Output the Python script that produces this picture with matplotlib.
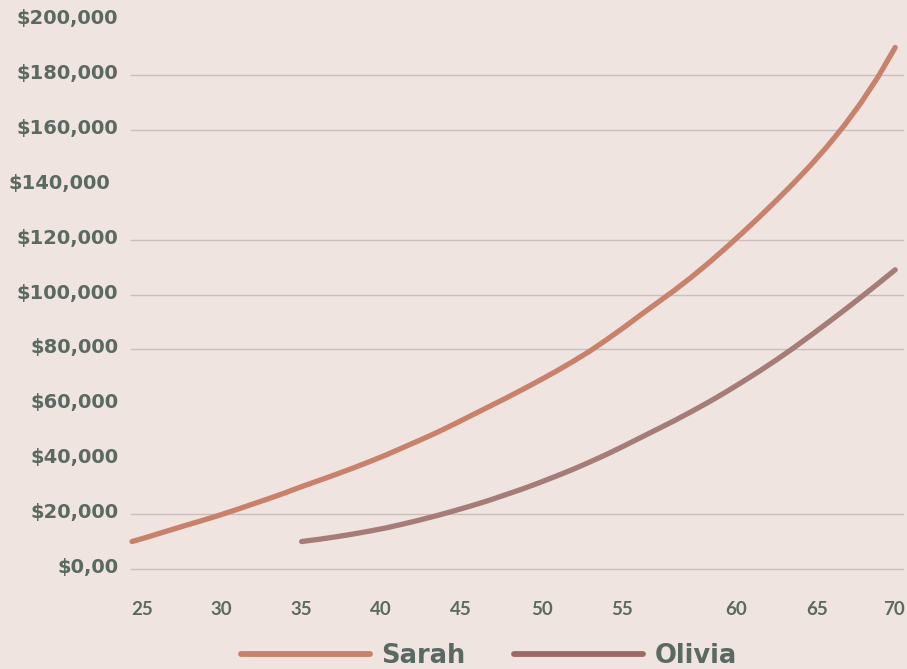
import matplotlib
matplotlib.use("Agg")
import matplotlib.pyplot as plt
from matplotlib.lines import Line2D
import matplotlib.transforms as mtransforms

# ---------------- data ----------------
sarah_ages = list(range(25, 71))
sarah_values = [10000, 11800, 13700, 15600, 17400, 19300, 21300, 23400, 25500, 27700,
                30000, 32200, 34400, 36700, 39100, 41600, 44300, 47000, 49800, 52800,
                55900, 59000, 62100, 65300, 68600, 72000, 75600, 79400, 83600, 88000,
                92600, 97100, 101600, 106400, 111500, 116900, 122500, 128300, 134300, 140500,
                147000, 154000, 161600, 170000, 179400, 190000]

olivia_ages = list(range(35, 71))
olivia_values = [10000, 10800, 11700, 12700, 13800, 15000, 16400, 17900, 19500, 21200,
                 23000, 24900, 27000, 29100, 31400, 33800, 36300, 39000, 41800, 44800,
                 47900, 51000, 54100, 57400, 60800, 64400, 68200, 72100, 76200, 80500,
                 85000, 89600, 94300, 99100, 104000, 109000]

x_tick_labels = ["25", "30", "35", "40", "45", "50", "55", "60", "65", "70"]
y_tick_values = [0, 20000, 40000, 60000, 80000, 100000, 120000, 140000, 160000, 180000, 200000]
y_tick_labels = ["$0,00", "$20,000", "$40,000", "$60,000", "$80,000", "$100,000",
                 "$120,000", "$140,000", "$160,000", "$180,000", "$200,000"]
grid_levels = [0, 20000, 80000, 100000, 120000, 160000, 180000]
series_names = ["Sarah", "Olivia"]

# ---------------- layout / style ----------------
x_tick_positions = [25.57, 30.25, 34.96, 39.68, 44.40, 49.16, 53.89, 60.60, 65.37, 69.93]
bg = "#f0e4e0"
text_color = "#5a6a61"
sarah_color = "#c8816a"
olivia_color = "#a67c79"
olivia_legend_color = "#9d6a68"
grid_color = "#cbbfbb"

W, H = 907, 669
fig = plt.figure(figsize=(W / 100, H / 100), dpi=100, facecolor=bg)
ax = fig.add_axes([131 / W, 100 / H, 772 / W, 549 / H])
ax.set_facecolor(bg)
ax.set_xlim(24.94, 70.46)
ax.set_ylim(0, 200000)

for lvl in grid_levels:
    ax.axhline(lvl, color=grid_color, lw=1.0, zorder=0, clip_on=False)

ax.plot(sarah_ages, sarah_values, color=sarah_color, lw=3.8,
        solid_capstyle="round", solid_joinstyle="round", clip_on=False, zorder=3)
ax.plot(olivia_ages, olivia_values, color=olivia_color, lw=3.8,
        solid_capstyle="round", solid_joinstyle="round", clip_on=False, zorder=3)

for s in ax.spines.values():
    s.set_visible(False)

ax.set_xticks(x_tick_positions)
ax.set_xticklabels(x_tick_labels, fontfamily="Lato", fontweight="bold",
                   fontsize=13.5, color=text_color)
ax.set_yticks(y_tick_values)
ax.set_yticklabels(y_tick_labels, fontfamily="DejaVu Sans", fontweight="bold",
                   fontsize=14, color=text_color)
ax.tick_params(axis="x", length=0, pad=23)
ax.tick_params(axis="y", length=0, pad=9)

# small vertical nudge of y labels (sit slightly above gridlines), $140,000 shifted left
for lab, val in zip(ax.get_yticklabels(), y_tick_values):
    dx = -6 / 72 if val == 140000 else 0
    lab.set_transform(lab.get_transform() +
                      mtransforms.ScaledTranslation(dx, 2.5 / 72, fig.dpi_scale_trans))

handles = [Line2D([0], [0], color=sarah_color, lw=4.2, solid_capstyle="round"),
           Line2D([0], [0], color=olivia_legend_color, lw=4.2, solid_capstyle="round")]
fig.legend(handles, series_names, loc="center", bbox_to_anchor=(489 / W, 13 / H),
           ncol=2, frameon=False, handlelength=5.0, handletextpad=0.45,
           columnspacing=1.9, borderpad=0,
           prop={"family": "DejaVu Sans", "weight": "bold", "size": 18.5},
           labelcolor=text_color)

fig.savefig("out.png", dpi=100, facecolor=bg)
